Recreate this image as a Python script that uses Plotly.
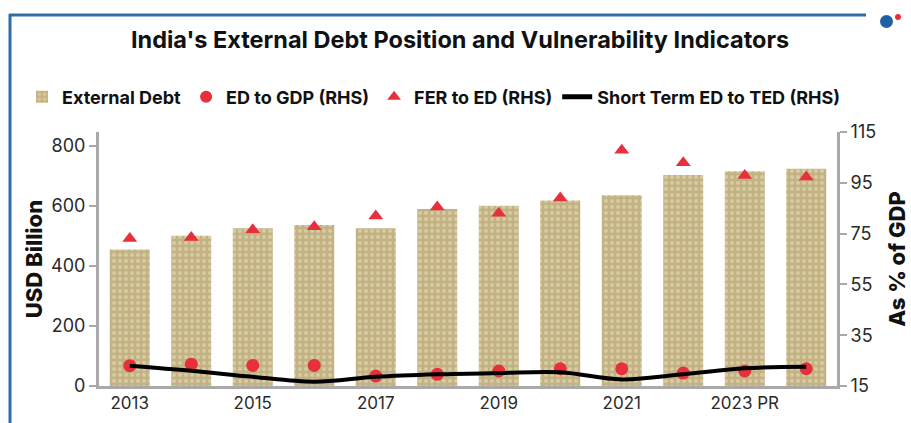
import plotly.graph_objects as go

years = ["2013", "2014", "2015", "2016", "2017", "2018", "2019", "2020",
         "2021", "2022", "2023 PR", "2024 PR"]
tick_years = ["2013", "2015", "2017", "2019", "2021", "2023 PR"]
external_debt = [455, 501, 526, 537, 526, 590, 601, 618, 636, 703, 716, 724]
ed_to_gdp = [23.0, 23.6, 23.1, 23.1, 18.9, 19.6, 20.9, 21.8, 21.8, 20.1, 20.9, 21.8]
fer_to_ed = [73.1, 73.5, 76.5, 77.7, 81.9, 85.5, 83.0, 89.0, 107.8, 102.9, 97.9, 97.3]
st_to_ted = [23.0, 21.0, 18.6, 16.7, 18.6, 19.6, 20.1, 20.4, 17.6, 19.6, 22.0, 22.6]

FONT = "Inter"
RED = "#e8303c"

fig = go.Figure()
fig.add_trace(go.Bar(
    x=years, y=external_debt, name="External Debt",
    marker=dict(color="#c2b284", line=dict(width=0),
                pattern=dict(shape=".", fgcolor="#ede3bf", size=6, solidity=0.35)),
    yaxis="y",
))
fig.add_trace(go.Scatter(
    x=years, y=ed_to_gdp, name="ED to GDP (RHS)", mode="markers",
    marker=dict(symbol="circle", size=13, color=RED), yaxis="y2",
))
fig.add_trace(go.Scatter(
    x=years, y=fer_to_ed, name="FER to ED (RHS)", mode="markers",
    marker=dict(symbol="triangle-up", size=13, color=RED), yaxis="y2",
))
fig.add_trace(go.Scatter(
    x=years, y=st_to_ted, name="Short Term ED to TED (RHS)", mode="lines",
    line=dict(color="black", width=4, shape="spline", smoothing=1), yaxis="y2",
))

L, R, T, B = 99, 74, 132, 37
W, H = 911, 423
pw, ph = W - L - R, H - T - B

def px(xp):
    return (xp - L) / pw

def py(yp):
    return (H - B - yp) / ph

fig.update_layout(
    width=W, height=H,
    margin=dict(l=L, r=R, t=T, b=B, autoexpand=False),
    paper_bgcolor="white", plot_bgcolor="white",
    font=dict(family=FONT, color="#2a2a2a"),
    bargap=0.35,
    title=dict(text="<b>India's External Debt Position and Vulnerability Indicators</b>",
               x=0.505, xanchor="center", y=1 - 40 / H, yanchor="middle",
               font=dict(family=FONT, size=23.5, color="#111")),
    showlegend=True,
    legend=dict(orientation="h", x=px(22), xanchor="left", y=py(97), yanchor="middle",
                font=dict(family=FONT, size=18, color="#111", weight="bold"),
                itemwidth=30, entrywidth=0, tracegroupgap=0,
                bgcolor="rgba(0,0,0,0)", itemsizing="constant", traceorder="normal"),
    xaxis=dict(type="category", range=[-0.5, 11.5], tickmode="array",
               tickvals=tick_years, ticktext=tick_years,
               showline=True, linecolor="#a9a9a9", linewidth=3, ticks="",
               tickfont=dict(size=17, color="#2a2a2a"), showgrid=False, zeroline=False),
    yaxis=dict(range=[0, 846.7], tickvals=[0, 200, 400, 600, 800],
               showline=True, linecolor="#a9a9a9", linewidth=3,
               ticks="outside", ticklen=7, tickwidth=2, tickcolor="#a9a9a9",
               tickfont=dict(size=18, color="#2a2a2a"), showgrid=False, zeroline=False,
               title=dict(text="USD Billion", font=dict(size=22, color="#111", weight=800), standoff=3)),
    yaxis2=dict(range=[15, 115], tickvals=[15, 35, 55, 75, 95, 115], overlaying="y", side="right",
                showline=True, linecolor="#a9a9a9", linewidth=3,
                ticks="outside", ticklen=7, tickwidth=2, tickcolor="#a9a9a9",
                tickfont=dict(size=18, color="#2a2a2a"), showgrid=False, zeroline=False,
                title=dict(text="As % of GDP", font=dict(size=22, color="#111", weight=800), standoff=15)),
)

# frame lines and logo
fig.add_shape(type="line", xref="paper", yref="paper", x0=px(9), x1=px(866), y0=py(15), y1=py(15),
              line=dict(color="#2f6fa8", width=3))
fig.add_shape(type="line", xref="paper", yref="paper", x0=px(10), x1=px(10), y0=py(14), y1=py(423),
              line=dict(color="#2f6fa8", width=3))
fig.add_shape(type="circle", xref="paper", yref="paper", x0=px(880), x1=px(893), y0=py(15), y1=py(28),
              fillcolor="#1f5fa8", line=dict(width=0))
fig.add_shape(type="circle", xref="paper", yref="paper", x0=px(895), x1=px(901), y0=py(14), y1=py(20),
              fillcolor="#e8303c", line=dict(width=0))

fig.write_html("out.html")
